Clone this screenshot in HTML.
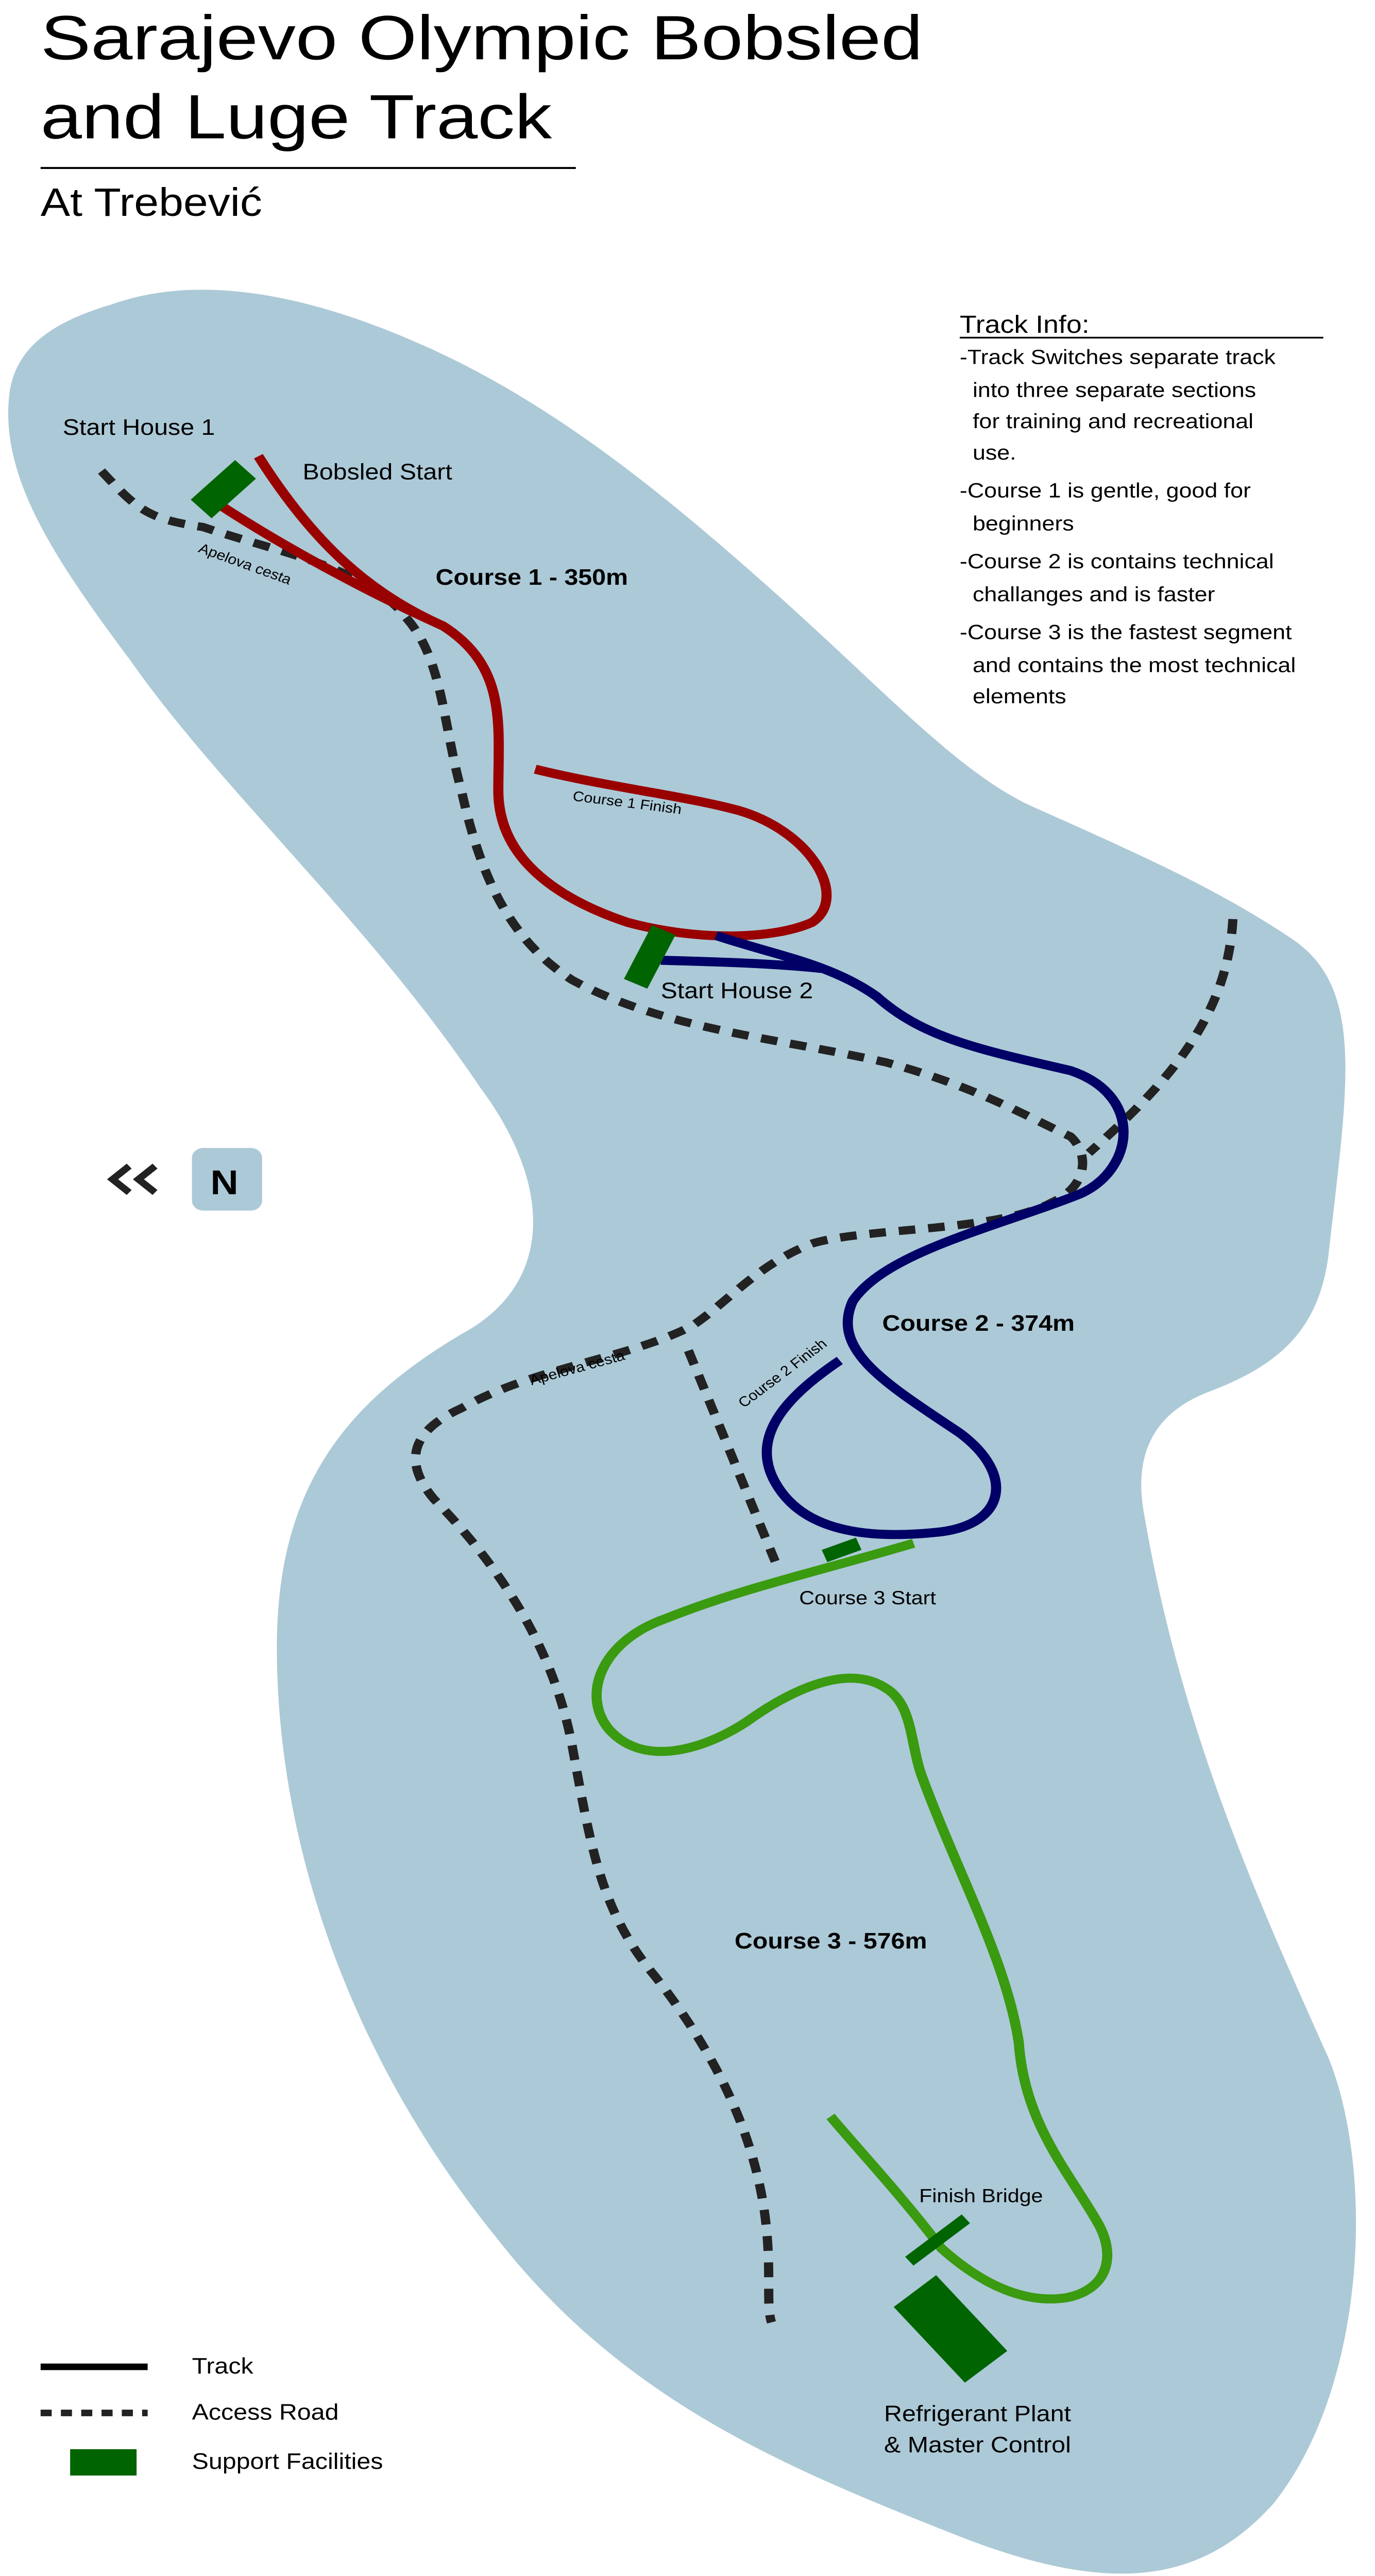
<!DOCTYPE html>
<html><head><meta charset="utf-8"><style>
html,body{margin:0;padding:0;background:#fff;overflow:hidden;width:100%;height:100%}
svg{display:block;position:absolute;left:0;top:0;width:100vw;height:100vh}
text{font-family:"Liberation Sans",sans-serif;fill:#000}
</style></head><body>
<svg viewBox="0 0 745 1564" preserveAspectRatio="none" xmlns="http://www.w3.org/2000/svg">
<text x="22" y="36" font-size="38" textLength="478" lengthAdjust="spacingAndGlyphs">Sarajevo Olympic Bobsled</text>
<text x="22" y="84" font-size="38" textLength="277" lengthAdjust="spacingAndGlyphs">and Luge Track</text>
<line x1="22" y1="102" x2="312" y2="102" stroke="#000" stroke-width="1.2"/>
<text x="22" y="131" font-size="24">At Trebević</text>

<path fill="#acc9d7" d="M60,185 C110,165 170,180 230,210 C300,245 360,300 420,360 C480,420 520,470 560,490 C620,520 660,540 700,570 C740,600 730,660 720,760 C715,810 690,830 655,845 C620,860 615,890 620,920 C640,1050 680,1150 720,1250 C745,1320 740,1450 690,1520 C650,1570 600,1575 520,1540 C430,1500 340,1460 270,1360 C190,1250 150,1120 150,1000 C150,900 190,850 250,810 C300,780 300,720 260,660 C200,560 120,480 70,400 C30,340 0,290 5,240 C8,210 30,195 60,185 Z"/>

<g fill="none" stroke-linecap="butt">
<path stroke="#222" stroke-width="5" stroke-dasharray="9,7" d="M55,286 C75,310 80,315 110,320 C150,335 200,345 220,375 C240,400 240,440 250,480 C260,530 275,570 310,595 C360,625 420,630 480,645 C530,660 560,680 580,690 C590,700 590,720 570,730 C540,748 470,745 440,755 C410,768 395,790 375,805 C340,825 290,830 250,855 C220,870 220,890 235,910 C270,950 300,1000 310,1060 C320,1120 325,1160 355,1200 C390,1250 410,1300 415,1350 C418,1380 415,1400 418,1410"/>
<path stroke="#222" stroke-width="5" stroke-dasharray="9,7" d="M668,558 C665,620 630,660 590,700"/>
<path stroke="#222" stroke-width="5" stroke-dasharray="9,7" d="M373,820 L420,948"/>
<path stroke="#990000" stroke-width="5.5" d="M140,277 C170,330 200,360 240,380 C275,405 270,440 270,480 C270,520 300,545 340,560 C380,572 420,570 440,560 C460,545 440,505 400,492 C370,483 330,478 290,467"/>
<path stroke="#990000" stroke-width="5.5" d="M113,302 C150,330 200,360 240,380"/>
<path stroke="#000066" stroke-width="5.5" d="M388,568 C420,580 450,585 475,605 C500,630 530,637 580,650 C620,665 615,710 585,725 C540,745 480,760 462,790 C450,820 480,840 520,870 C550,895 545,925 510,930 C470,935 435,930 420,900 C405,870 430,845 455,826"/>
<path stroke="#000066" stroke-width="5.5" d="M358,583 C390,584 420,585 445,588"/>
<path stroke="#3a9a10" stroke-width="5.5" d="M495,937 C440,955 400,965 360,983 C325,997 315,1030 330,1050 C350,1075 385,1060 405,1045 C430,1025 460,1010 480,1025 C495,1035 493,1060 500,1080 C520,1140 545,1190 552,1240 C555,1290 580,1320 595,1350 C605,1370 600,1390 578,1395 C550,1400 525,1380 510,1365 C490,1335 465,1305 450,1285"/>
</g>
<g fill="#006400">
<rect x="-8" y="-17" width="16" height="34" transform="translate(121,297) rotate(45)"/>
<rect x="-7" y="-18" width="14" height="36" transform="translate(352,581) rotate(25)"/>
<rect x="-10" y="-4" width="20" height="8" transform="translate(456,941) rotate(-22)"/>
<rect x="-20" y="-3.5" width="40" height="7" transform="translate(508,1360) rotate(-40)"/>
<rect x="-15" y="-30" width="30" height="60" transform="translate(515,1414) rotate(-40)"/>
</g>

<text x="34" y="264" font-size="13.5">Start House 1</text>
<text x="164" y="291" font-size="13.5">Bobsled Start</text>
<text x="236" y="355" font-size="13.5" font-weight="bold">Course 1 - 350m</text>
<text font-size="8.5" transform="translate(107,335) rotate(22)">Apelova cesta</text>
<text font-size="8.5" transform="translate(310,486) rotate(8)">Course 1 Finish</text>
<text x="358" y="606" font-size="13.5">Start House 2</text>
<text x="478" y="808" font-size="13.5" font-weight="bold">Course 2 - 374m</text>
<text font-size="8.5" transform="translate(288,841) rotate(-17)">Apelova cesta</text>
<text font-size="8.5" transform="translate(403,855) rotate(-40)">Course 2 Finish</text>
<text x="433" y="974" font-size="11.5">Course 3 Start</text>
<text x="398" y="1183" font-size="13.5" font-weight="bold">Course 3 - 576m</text>
<text x="498" y="1337" font-size="11.5">Finish Bridge</text>
<text x="479" y="1470" font-size="13.5">Refrigerant Plant</text>
<text x="479" y="1489" font-size="13.5">&amp; Master Control</text>

<text x="520" y="202" font-size="15">Track Info:</text>
<line x1="520" y1="205" x2="717" y2="205" stroke="#000" stroke-width="1"/>
<g font-size="12.5">
<text x="520" y="221">-Track Switches separate track</text>
<text x="527" y="241">into three separate sections</text>
<text x="527" y="260">for training and recreational</text>
<text x="527" y="279">use.</text>
<text x="520" y="302">-Course 1 is gentle, good for</text>
<text x="527" y="322">beginners</text>
<text x="520" y="345">-Course 2 is contains technical</text>
<text x="527" y="365">challanges and is faster</text>
<text x="520" y="388">-Course 3 is the fastest segment</text>
<text x="527" y="408">and contains the most technical</text>
<text x="527" y="427">elements</text>
</g>

<rect x="104" y="697" width="38" height="38" rx="6" fill="#acc9d7"/>
<text x="114" y="725" font-size="21" font-weight="bold">N</text>
<path d="M70,708 L61,716 L70,724 M84,708 L75,716 L84,724" fill="none" stroke="#222" stroke-width="4"/>

<line x1="22" y1="1437" x2="80" y2="1437" stroke="#000" stroke-width="4"/>
<text x="104" y="1441" font-size="13.5">Track</text>
<line x1="22" y1="1465" x2="80" y2="1465" stroke="#222" stroke-width="4" stroke-dasharray="6,5"/>
<text x="104" y="1469" font-size="13.5">Access Road</text>
<rect x="38" y="1487" width="36" height="16" fill="#006400"/>
<text x="104" y="1499" font-size="13.5">Support Facilities</text>
</svg>
</body></html>
